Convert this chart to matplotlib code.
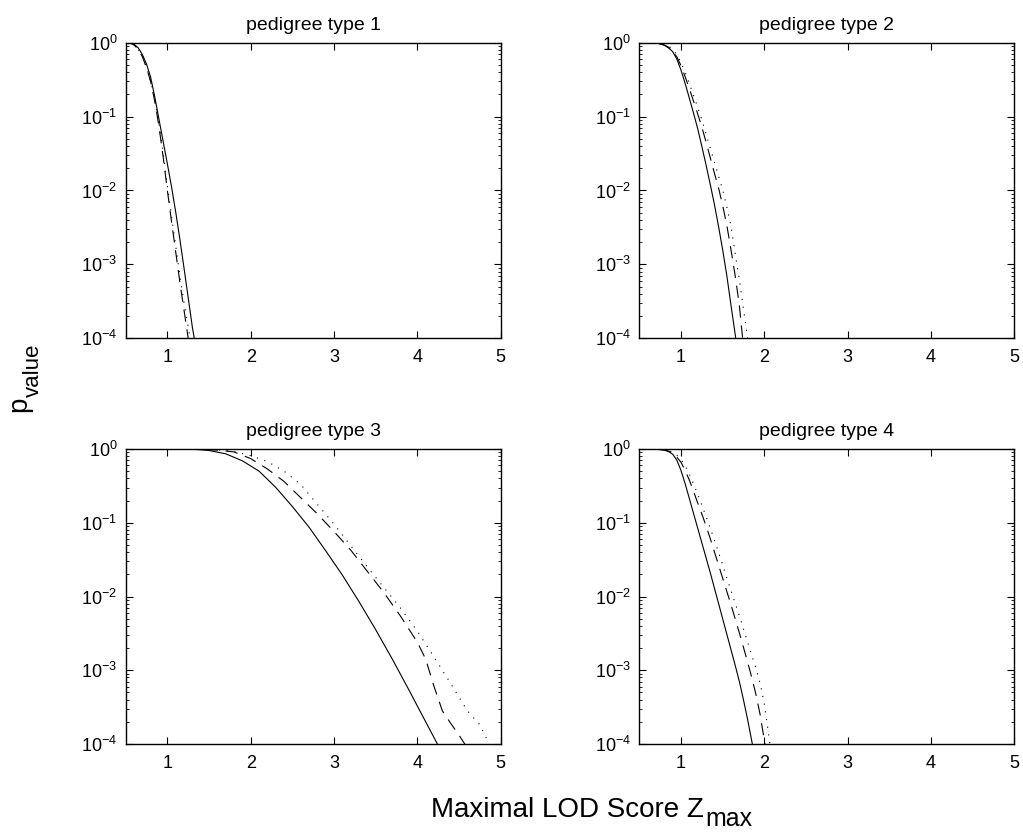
import numpy as np
import matplotlib
matplotlib.use("Agg")
import matplotlib.pyplot as plt

plt.rcParams['font.family'] = ['Liberation Sans', 'DejaVu Sans']
plt.rcParams['mathtext.fontset'] = 'custom'
plt.rcParams['mathtext.rm'] = 'Liberation Sans'
plt.rcParams['mathtext.it'] = 'Liberation Sans:italic'

titles = ['pedigree type 1', 'pedigree type 2', 'pedigree type 3', 'pedigree type 4']

# log10(p-value) against Zmax, three curves per pedigree type
# pedigree type 1
x1_solid = [0.50, 0.55, 0.60, 0.65, 0.70, 0.75, 0.80, 0.85, 0.90, 0.95, 1.00, 1.05, 1.10, 1.15, 1.20, 1.25, 1.30, 1.33]
lp1_solid = [0, -0.004, -0.02, -0.07, -0.16, -0.29, -0.47, -0.74, -1.04, -1.34, -1.64, -1.95, -2.29, -2.66, -3.05, -3.45, -3.85, -4.05]
x1_dash = [0.50, 0.55, 0.60, 0.65, 0.70, 0.75, 0.80, 0.85, 0.90, 0.95, 1.00, 1.05, 1.10, 1.15, 1.20, 1.25]
lp1_dash = [0, -0.005, -0.03, -0.09, -0.19, -0.34, -0.53, -0.80, -1.14, -1.55, -2.00, -2.42, -2.83, -3.24, -3.62, -4.00]
x1_dot = [0.50, 0.55, 0.60, 0.65, 0.70, 0.75, 0.80, 0.85, 0.90, 0.95, 1.00, 1.05, 1.10, 1.15, 1.20, 1.25, 1.28]
lp1_dot = [0, -0.005, -0.03, -0.09, -0.18, -0.33, -0.52, -0.78, -1.11, -1.50, -1.94, -2.35, -2.75, -3.15, -3.52, -3.85, -4.05]

# pedigree type 2
x2_solid = [0.50, 0.60, 0.70, 0.75, 0.80, 0.85, 0.90, 0.95, 1.00, 1.05, 1.10, 1.15, 1.20, 1.25, 1.30, 1.35, 1.40, 1.45, 1.50, 1.55, 1.60, 1.66]
lp2_solid = [0, 0, -0.005, -0.015, -0.035, -0.07, -0.12, -0.22, -0.37, -0.55, -0.75, -0.95, -1.16, -1.40, -1.65, -1.91, -2.18, -2.48, -2.80, -3.15, -3.55, -4.02]
x2_dash = [0.50, 0.70, 0.80, 0.85, 0.90, 0.95, 1.00, 1.05, 1.10, 1.15, 1.20, 1.25, 1.30, 1.35, 1.40, 1.45, 1.50, 1.55, 1.60, 1.65, 1.70, 1.74]
lp2_dash = [0, -0.004, -0.03, -0.06, -0.11, -0.19, -0.31, -0.46, -0.62, -0.79, -0.96, -1.14, -1.34, -1.55, -1.76, -1.96, -2.20, -2.47, -2.80, -3.15, -3.55, -4.00]
x2_dot = [0.50, 0.70, 0.80, 0.85, 0.90, 0.95, 1.00, 1.05, 1.10, 1.15, 1.20, 1.25, 1.30, 1.35, 1.40, 1.45, 1.50, 1.55, 1.60, 1.65, 1.70, 1.75, 1.80]
lp2_dot = [0, -0.003, -0.02, -0.045, -0.09, -0.16, -0.27, -0.40, -0.55, -0.71, -0.87, -1.04, -1.23, -1.42, -1.61, -1.80, -1.99, -2.22, -2.48, -2.85, -3.20, -3.60, -4.00]

# pedigree type 3
x3_solid = [0.5, 1.0, 1.3, 1.5, 1.7, 1.9, 2.1, 2.3, 2.5, 2.7, 2.9, 3.1, 3.3, 3.5, 3.7, 3.9, 4.1, 4.25]
lp3_solid = [0, 0, -0.003, -0.02, -0.065, -0.16, -0.30, -0.52, -0.78, -1.06, -1.38, -1.71, -2.07, -2.45, -2.85, -3.27, -3.70, -4.02]
x3_dash = [0.5, 1.0, 1.4, 1.6, 1.8, 2.0, 2.2, 2.4, 2.6, 2.8, 3.0, 3.2, 3.4, 3.6, 3.8, 4.0, 4.1, 4.2, 4.3, 4.4, 4.5, 4.58]
lp3_dash = [0, 0, -0.005, -0.015, -0.04, -0.13, -0.27, -0.44, -0.66, -0.88, -1.12, -1.37, -1.66, -1.95, -2.27, -2.62, -2.85, -3.22, -3.55, -3.72, -3.88, -4.02]
x3_dot = [0.5, 1.0, 1.4, 1.6, 1.8, 2.0, 2.2, 2.4, 2.6, 2.8, 3.0, 3.2, 3.4, 3.6, 3.8, 4.0, 4.2, 4.4, 4.6, 4.75, 4.87]
lp3_dot = [0, 0, -0.003, -0.01, -0.035, -0.09, -0.17, -0.30, -0.48, -0.75, -1.02, -1.31, -1.60, -1.88, -2.16, -2.47, -2.82, -3.18, -3.55, -3.74, -4.02]

# pedigree type 4
x4_solid = [0.5, 0.7, 0.8, 0.85, 0.9, 0.95, 1.0, 1.05, 1.1, 1.15, 1.2, 1.25, 1.3, 1.35, 1.4, 1.45, 1.5, 1.55, 1.6, 1.65, 1.7, 1.75, 1.8, 1.86]
lp4_solid = [0, -0.003, -0.015, -0.035, -0.07, -0.15, -0.29, -0.47, -0.67, -0.87, -1.07, -1.27, -1.47, -1.67, -1.88, -2.09, -2.30, -2.51, -2.72, -2.93, -3.15, -3.40, -3.67, -4.02]
x4_dash = [0.5, 0.7, 0.8, 0.85, 0.9, 0.95, 1.0, 1.05, 1.1, 1.15, 1.2, 1.25, 1.3, 1.35, 1.4, 1.45, 1.5, 1.55, 1.6, 1.65, 1.7, 1.75, 1.8, 1.85, 1.9, 1.95, 2.01]
lp4_dash = [0, -0.002, -0.012, -0.028, -0.055, -0.11, -0.18, -0.29, -0.42, -0.57, -0.73, -0.88, -1.04, -1.21, -1.39, -1.57, -1.75, -1.93, -2.11, -2.30, -2.49, -2.69, -2.89, -3.10, -3.33, -3.60, -4.02]
x4_dot = [0.5, 0.7, 0.8, 0.85, 0.9, 0.95, 1.0, 1.05, 1.1, 1.15, 1.2, 1.25, 1.3, 1.35, 1.4, 1.45, 1.5, 1.55, 1.6, 1.65, 1.7, 1.75, 1.8, 1.85, 1.9, 1.95, 2.0, 2.07]
lp4_dot = [0, -0.002, -0.01, -0.022, -0.045, -0.085, -0.14, -0.23, -0.34, -0.47, -0.61, -0.76, -0.91, -1.07, -1.23, -1.40, -1.57, -1.75, -1.92, -2.09, -2.26, -2.44, -2.62, -2.80, -2.97, -3.18, -3.45, -4.02]

panels = [
    [(x1_solid, lp1_solid), (x1_dash, lp1_dash), (x1_dot, lp1_dot)],
    [(x2_solid, lp2_solid), (x2_dash, lp2_dash), (x2_dot, lp2_dot)],
    [(x3_solid, lp3_solid), (x3_dash, lp3_dash), (x3_dot, lp3_dot)],
    [(x4_solid, lp4_solid), (x4_dash, lp4_dash), (x4_dot, lp4_dot)],
]
styles = ['-', (0, (11, 7)), (0, (1, 6))]

W, H = 1023, 835
fig = plt.figure(figsize=(W / 100, H / 100), dpi=100)

# axes boxes in pixels: left, top, right, bottom
boxes = [(125.7, 42.7, 500.7, 338.3), (639.3, 42.7, 1014.3, 338.3),
         (125.7, 449.0, 500.7, 744.0), (639.3, 449.0, 1014.3, 744.0)]

for i, (l, t, r, b) in enumerate(boxes):
    ax = fig.add_axes([l / W, 1 - b / H, (r - l) / W, (b - t) / H])
    for (xs, lps), ls in zip(panels[i], styles):
        ax.plot(xs, 10 ** np.array(lps), color='black', linestyle=ls, linewidth=0.8)
    ax.set_yscale('log')
    ax.set_xlim(0.5, 5)
    ax.set_ylim(1e-4, 1)
    ax.set_xticks([1, 2, 3, 4, 5])
    ax.set_yticks([1e-4, 1e-3, 1e-2, 1e-1, 1])
    ax.tick_params(which='both', direction='in', top=True, right=True, labelsize=13)
    ax.tick_params(axis='x', pad=8)
    ax.tick_params(axis='y', pad=6)
    ax.tick_params(which='major', length=5, width=0.8)
    ax.tick_params(which='minor', length=2.5, width=0.6)
    ax.tick_params(axis='x', which='minor', top=False, bottom=False)
    for s in ax.spines.values():
        s.set_linewidth(1.0)
    ax.set_title(titles[i], fontsize=14, pad=9)


def px(x, y):
    return x / W, 1 - y / H


renderer = fig.canvas.get_renderer()

# y label: p with a subscript, reading bottom to top
p_txt = fig.text(*px(26, 412), 'p', fontsize=20, rotation=90,
                 rotation_mode='anchor', ha='left', va='baseline')
p_len = p_txt.get_window_extent(renderer).height
fig.text(*px(39, 412 - p_len), 'value', fontsize=16, rotation=90,
         rotation_mode='anchor', ha='left', va='baseline')

# x label: Z with a subscript
z_txt = fig.text(*px(431, 817), 'Maximal LOD Score Z', fontsize=20,
                 ha='left', va='baseline')
z_len = z_txt.get_window_extent(renderer).width
fig.text(*px(431 + z_len + 1, 826), 'max', fontsize=18, ha='left', va='baseline')

fig.savefig('out.png', dpi=100)
